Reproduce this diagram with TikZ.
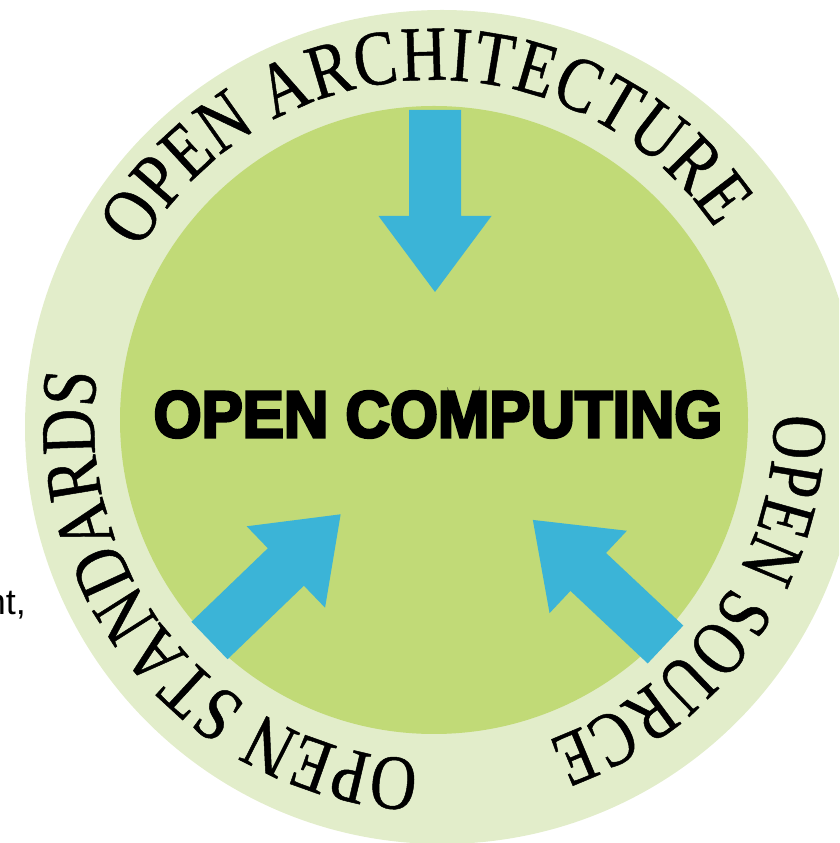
\documentclass[tikz,border=0pt]{standalone}
\usepackage{fontspec}
\usetikzlibrary{decorations.text}
\newfontfamily\ringfontA[FakeStretch=0.82,FakeBold=0.6]{Liberation Serif}
\newfontfamily\ringfontB[FakeStretch=0.78,FakeBold=0.6]{Liberation Serif}
\newfontfamily\ringfontC[FakeStretch=0.82,FakeBold=0.6]{Liberation Serif}
\newfontfamily\hubfont[BoldFeatures={FakeBold=4.5}]{Liberation Sans}
\newfontfamily\sidefont{Liberation Sans}
\definecolor{ringgreen}{HTML}{E2EDCA}
\definecolor{hubgreen}{HTML}{C1DA77}
\definecolor{arrowblue}{HTML}{3BB4D7}
\newcommand\ringfmtA{\ringfontA\fontsize{78}{78}\selectfont}
\newcommand\ringfmtB{\ringfontB\fontsize{78}{78}\selectfont}
\newcommand\ringfmtC{\ringfontC\fontsize{78}{78}\selectfont}
\tikzset{
  blockarrow/.pic={
    \fill[arrowblue] (0,-26) -- (106,-26) -- (106,-56.5) -- (182,0)
      -- (106,56.5) -- (106,26) -- (0,26) -- cycle;
  },
  ringtext/.style={decorate, decoration={text along path, text={#1}, text align={fit to path}}},
}
\begin{document}
\begin{tikzpicture}[x=1pt,y=1pt]
\useasboundingbox (0,0) rectangle (839,843);
\clip (0,0) rectangle (839,843);
\coordinate (ringc) at (442,416);
\coordinate (hub) at (434,423);
\fill[ringgreen] (ringc) circle[radius=417pt];
\fill[hubgreen] (hub) circle[radius=314pt];
% arrows
\pic[rotate=-90] (topar) at (435,733) {blockarrow};
\pic[rotate=43.9] (leftar) at (209.5,202.5) {blockarrow};
\pic[rotate=136.8] (rightar) at (665.5,198.5) {blockarrow};
% centre title
\node[inner sep=0pt, font=\hubfont\bfseries\fontsize{65.6}{65.6}\selectfont] (title) at (438,428.5) {\scalebox{0.94}[1]{OPEN COMPUTING}};
% ring texts
\path[ringtext={|\ringfmtA|OPEN ARCHITECTURE}] (hub) ++(150:340pt) arc[start angle=150, end angle=34.2, radius=340pt];
\path[ringtext={|\ringfmtB|OPEN SOURCE}] (hub) ++(1:340pt) arc[start angle=1, end angle=-70.4, radius=340pt];
\path[ringtext={|\ringfmtC|OPEN STANDARDS}] (hub) ++(267.5:340pt) arc[start angle=267.5, end angle=173.6, radius=340pt];
% cut-off side text
\node[inner sep=0pt, anchor=base east, font=\sidefont\fontsize{36}{36}\selectfont] (frag) at (26,228) {nt,};
\end{tikzpicture}
\end{document}
